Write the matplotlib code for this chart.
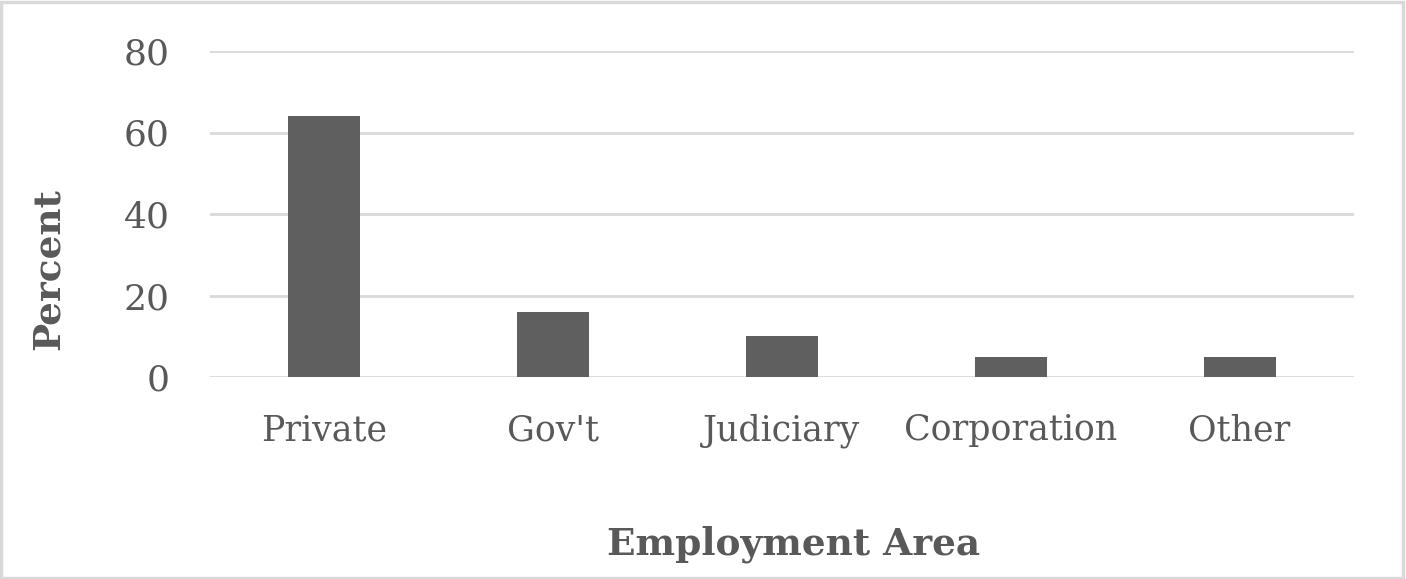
import matplotlib
matplotlib.use('Agg')
import matplotlib.pyplot as plt

# data
categories = ["Private", "Gov't", "Judiciary", "Corporation", "Other"]
percents = [64, 16, 10, 5, 5]
yticks = [0, 20, 40, 60, 80]

text_color = '#595959'
bar_color = '#5f5f5f'
grid_color = '#d9d9d9'

plt.rcParams['font.family'] = ['DejaVu Serif']

fig = plt.figure(figsize=(14.06, 5.79), dpi=100)
ax = fig.add_axes([210 / 1406, 1 - 377 / 579, (1354 - 210) / 1406, (377 - 51) / 579])

ax.bar(range(len(categories)), percents, width=0.315, color=bar_color, zorder=3)

ax.set_xlim(-0.5, len(categories) - 0.5)
ax.set_ylim(0, 80)
ax.set_yticks(yticks)
ax.set_xticks(range(len(categories)))
ax.set_xticklabels(categories)

# gridlines
for y in yticks:
    ax.axhline(y, color=grid_color, lw=2, zorder=1)

for s in ax.spines.values():
    s.set_visible(False)
ax.tick_params(axis='x', length=0, colors=text_color, labelsize=25, pad=26)
ax.tick_params(axis='y', length=0, colors=text_color, labelsize=26, pad=29)

ax.set_ylabel('Percent', fontsize=27, fontweight='bold', color=text_color, labelpad=41)
ax.yaxis.label.set_y(0.331)
ax.set_xlabel('Employment Area', fontsize=27, fontweight='bold', color=text_color, labelpad=56)
ax.xaxis.label.set_x(0.51)

# chart border
border = plt.Rectangle((0.001, 0.002), 0.997, 0.995, transform=fig.transFigure,
                       fill=False, ec=grid_color, lw=2.5)
fig.patches.append(border)

fig.savefig('out.png', dpi=100, facecolor='white')
